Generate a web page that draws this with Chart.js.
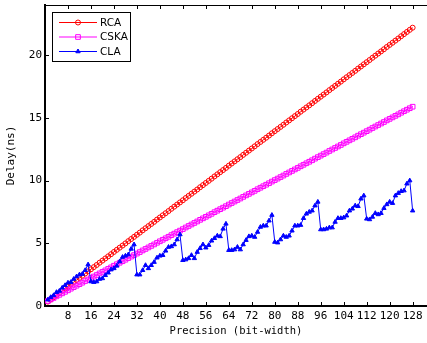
<!DOCTYPE html>
<html>
<head>
<meta charset="utf-8">
<script src="https://cdn.jsdelivr.net/npm/chart.js@4.4.0/dist/chart.umd.min.js"></script>
<style>
html, body { margin: 0; padding: 0; background: #fff; overflow: hidden; }
</style>
</head>
<body>
<canvas id="myChart" width="427" height="343"></canvas>
<script>
// precision (bit-width) of each measured point
const bits = [1, 2, 3, 4, 5, 6, 7, 8, 9, 10, 11, 12, 13, 14, 15, 16,
    17, 18, 19, 20, 21, 22, 23, 24, 25, 26, 27, 28, 29, 30, 31, 32,
    33, 34, 35, 36, 37, 38, 39, 40, 41, 42, 43, 44, 45, 46, 47, 48,
    49, 50, 51, 52, 53, 54, 55, 56, 57, 58, 59, 60, 61, 62, 63, 64,
    65, 66, 67, 68, 69, 70, 71, 72, 73, 74, 75, 76, 77, 78, 79, 80,
    81, 82, 83, 84, 85, 86, 87, 88, 89, 90, 91, 92, 93, 94, 95, 96,
    97, 98, 99, 100, 101, 102, 103, 104, 105, 106, 107, 108, 109, 110, 111, 112,
    113, 114, 115, 116, 117, 118, 119, 120, 121, 122, 123, 124, 125, 126, 127, 128];

// delay in ns
const rca = [0.35, 0.52, 0.69, 0.87, 1.04, 1.21, 1.38, 1.55, 1.73, 1.90, 2.07, 2.24, 2.41, 2.59, 2.76, 2.93,
    3.10, 3.27, 3.45, 3.62, 3.79, 3.96, 4.13, 4.31, 4.48, 4.65, 4.82, 4.99, 5.17, 5.34, 5.51, 5.68,
    5.85, 6.03, 6.20, 6.37, 6.54, 6.71, 6.89, 7.06, 7.23, 7.40, 7.57, 7.75, 7.92, 8.09, 8.26, 8.43,
    8.61, 8.78, 8.95, 9.12, 9.29, 9.47, 9.64, 9.81, 9.98, 10.15, 10.33, 10.50, 10.67, 10.84, 11.01, 11.19,
    11.36, 11.53, 11.70, 11.87, 12.05, 12.22, 12.39, 12.56, 12.73, 12.91, 13.08, 13.25, 13.42, 13.59, 13.77, 13.94,
    14.11, 14.28, 14.45, 14.63, 14.80, 14.97, 15.14, 15.31, 15.49, 15.66, 15.83, 16.00, 16.17, 16.35, 16.52, 16.69,
    16.86, 17.03, 17.21, 17.38, 17.55, 17.72, 17.89, 18.07, 18.24, 18.41, 18.58, 18.75, 18.93, 19.10, 19.27, 19.44,
    19.61, 19.79, 19.96, 20.13, 20.30, 20.47, 20.65, 20.82, 20.99, 21.16, 21.33, 21.51, 21.68, 21.85, 22.02, 22.19];

const cska = [0.40, 0.52, 0.64, 0.77, 0.89, 1.01, 1.13, 1.25, 1.38, 1.50, 1.62, 1.74, 1.86, 1.99, 2.11, 2.23,
    2.35, 2.47, 2.60, 2.72, 2.84, 2.96, 3.08, 3.21, 3.33, 3.45, 3.57, 3.69, 3.82, 3.94, 4.06, 4.18,
    4.30, 4.43, 4.55, 4.67, 4.79, 4.91, 5.04, 5.16, 5.28, 5.40, 5.52, 5.65, 5.77, 5.89, 6.01, 6.13,
    6.26, 6.38, 6.50, 6.62, 6.74, 6.87, 6.99, 7.11, 7.23, 7.35, 7.48, 7.60, 7.72, 7.84, 7.96, 8.09,
    8.21, 8.33, 8.45, 8.57, 8.70, 8.82, 8.94, 9.06, 9.18, 9.31, 9.43, 9.55, 9.67, 9.79, 9.92, 10.04,
    10.16, 10.28, 10.40, 10.53, 10.65, 10.77, 10.89, 11.01, 11.14, 11.26, 11.38, 11.50, 11.62, 11.75, 11.87, 11.99,
    12.11, 12.23, 12.36, 12.48, 12.60, 12.72, 12.84, 12.97, 13.09, 13.21, 13.33, 13.45, 13.58, 13.70, 13.82, 13.94,
    14.06, 14.19, 14.31, 14.43, 14.55, 14.67, 14.80, 14.92, 15.04, 15.16, 15.28, 15.41, 15.53, 15.65, 15.77, 15.89];

const cla = [0.50, 0.70, 0.85, 1.10, 1.20, 1.45, 1.65, 1.85, 1.90, 2.15, 2.35, 2.50, 2.55, 2.85, 3.30, 1.95,
    1.90, 1.95, 2.15, 2.20, 2.45, 2.65, 2.90, 3.00, 3.20, 3.55, 3.90, 4.00, 4.10, 4.55, 4.90, 2.50,
    2.50, 2.85, 3.25, 3.00, 3.25, 3.50, 3.85, 4.00, 4.05, 4.40, 4.70, 4.75, 4.90, 5.30, 5.70, 3.65,
    3.70, 3.80, 4.05, 3.80, 4.30, 4.60, 4.90, 4.65, 4.85, 5.20, 5.40, 5.60, 5.55, 6.15, 6.55, 4.45,
    4.45, 4.50, 4.70, 4.50, 4.90, 5.25, 5.55, 5.60, 5.50, 5.90, 6.30, 6.40, 6.40, 6.80, 7.25, 5.10,
    5.05, 5.30, 5.60, 5.50, 5.60, 6.00, 6.40, 6.40, 6.45, 7.00, 7.35, 7.50, 7.60, 8.00, 8.30, 6.10,
    6.10, 6.15, 6.25, 6.25, 6.70, 7.00, 7.00, 7.05, 7.20, 7.60, 7.75, 8.00, 7.95, 8.55, 8.80, 6.95,
    6.90, 7.10, 7.40, 7.30, 7.40, 7.80, 8.10, 8.30, 8.20, 8.80, 9.00, 9.15, 9.20, 9.75, 10.00, 7.60];

const xTicks = [8, 16, 24, 32, 40, 48, 56, 64, 72, 80, 88, 96, 104, 112, 120, 128];
const yTicks = [0, 5, 10, 15, 20];

function points(values) {
    return bits.map((b, i) => ({x: b, y: values[i]}));
}

// matlab style ticks pointing into the plot
const inwardTicks = {
    id: 'inwardTicks',
    afterDraw(chart) {
        const {ctx, chartArea: a, scales: {x, y}} = chart;
        ctx.save();
        ctx.strokeStyle = '#000';
        ctx.lineWidth = 1;
        ctx.beginPath();
        xTicks.forEach(v => {
            const px = Math.round(x.getPixelForValue(v)) + 0.5;
            ctx.moveTo(px, a.bottom); ctx.lineTo(px, a.bottom - 4);
            ctx.moveTo(px, a.top); ctx.lineTo(px, a.top + 4);
        });
        yTicks.forEach(v => {
            const py = Math.round(y.getPixelForValue(v)) + 0.5;
            ctx.moveTo(a.left, py); ctx.lineTo(a.left + 4, py);
        });
        ctx.stroke();
        ctx.restore();
    }
};

// legend box with line + marker samples
const legendBox = {
    id: 'legendBox',
    afterDraw(chart) {
        const ctx = chart.ctx;
        const bx = 52.5, by = 12.5, bw = 78, bh = 49;
        ctx.save();
        ctx.fillStyle = '#fff';
        ctx.fillRect(bx, by, bw, bh);
        ctx.strokeStyle = '#000';
        ctx.lineWidth = 1;
        ctx.strokeRect(bx, by, bw, bh);
        ctx.font = '10.5px "DejaVu Sans"';
        ctx.textBaseline = 'middle';
        chart.data.datasets.forEach((ds, i) => {
            const ly = 22.5 + i * 14.5;
            ctx.strokeStyle = ds.borderColor;
            ctx.lineWidth = 1;
            ctx.beginPath();
            ctx.moveTo(59, ly); ctx.lineTo(97, ly);
            ctx.stroke();
            ctx.fillStyle = ds.pointBackgroundColor;
            Chart.helpers.drawPoint(ctx, {
                pointStyle: ds.pointStyle, radius: ds.pointRadius,
                borderWidth: 1, rotation: 0
            }, 78, ly);
            ctx.fillStyle = '#000';
            ctx.fillText(ds.label, 100, ly + 0.5);
        });
        ctx.restore();
    }
};

function noPad(s) {
    s.paddingTop = 0; s.paddingBottom = 0;
    s.paddingLeft = 0; s.paddingRight = 0;
}

const ctx = document.getElementById('myChart');
const tickFont = {family: '"DejaVu Sans Mono"', size: 11};

new Chart(ctx, {
    type: 'line',
    data: {
        datasets: [{
            label: 'RCA',
            data: points(rca),
            borderColor: '#ff0000',
            borderWidth: 1,
            pointStyle: 'circle',
            pointRadius: 2.5,
            pointBorderWidth: 1,
            pointBackgroundColor: 'rgba(0,0,0,0)',
            order: 3
        }, {
            label: 'CSKA',
            data: points(cska),
            borderColor: '#ff00ff',
            borderWidth: 1,
            pointStyle: 'rect',
            pointRadius: 3.3,
            pointBorderWidth: 1,
            pointBackgroundColor: 'rgba(0,0,0,0)',
            order: 2
        }, {
            label: 'CLA',
            data: points(cla),
            borderColor: '#0000ff',
            borderWidth: 1,
            pointStyle: 'triangle',
            pointRadius: 2.5,
            pointBorderWidth: 1,
            pointBackgroundColor: '#0000ff',
            order: 1
        }]
    },
    options: {
        responsive: false,
        animation: false,
        layout: {padding: 0, autoPadding: false},
        plugins: {legend: {display: false}, tooltip: {enabled: false}},
        scales: {
            x: {
                type: 'linear',
                position: 'bottom',
                min: 0,
                max: 133,
                afterBuildTicks: s => { s.ticks = xTicks.map(v => ({value: v})); },
                afterFit: s => { s.height = 37; noPad(s); },
                grid: {drawOnChartArea: false, drawTicks: false},
                border: {color: '#000', width: 2},
                ticks: {font: tickFont, color: '#000', padding: 4, maxRotation: 0, autoSkip: false},
                title: {display: true, text: 'Precision (bit-width)', color: '#000',
                    font: {family: '"DejaVu Sans Mono"', size: 10.5}, padding: {top: 0, bottom: 5}}
            },
            x2: {
                type: 'linear',
                position: 'top',
                min: 0,
                max: 133,
                afterFit: s => { s.height = 5; noPad(s); },
                grid: {drawOnChartArea: false, drawTicks: false},
                border: {color: '#000', width: 1},
                ticks: {display: false}
            },
            y: {
                min: 0,
                max: 24,
                afterBuildTicks: s => { s.ticks = yTicks.map(v => ({value: v})); },
                afterFit: s => { s.width = 45; noPad(s); },
                grid: {drawOnChartArea: false, drawTicks: false},
                border: {color: '#000', width: 2},
                ticks: {font: tickFont, color: '#000', padding: 3},
                title: {display: true, text: 'Delay(ns)', color: '#000',
                    font: {family: '"DejaVu Sans Mono"', size: 11}, padding: {top: 5, bottom: 0}}
            }
        }
    },
    plugins: [inwardTicks, legendBox]
});
</script>
</body>
</html>
